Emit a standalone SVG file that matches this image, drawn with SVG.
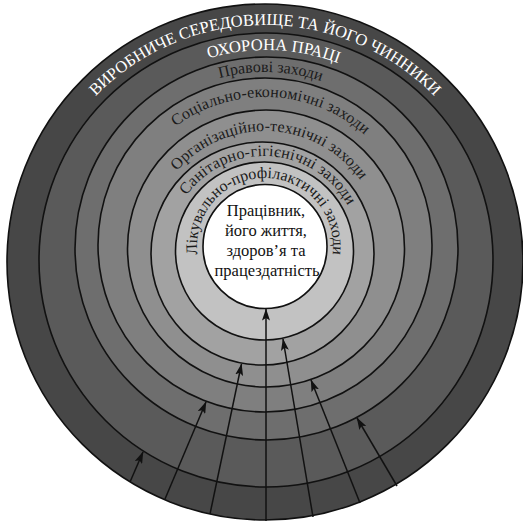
<svg xmlns="http://www.w3.org/2000/svg" width="523" height="525" viewBox="0 0 523 525">
  <style>
    .ring { stroke: #111; stroke-width: 1.6; }
    .light { fill: #ffffff; font-size: 16.6px; }
    .dark { fill: #1b1b1b; font-size: 16px; }
    .core { fill: #111; font-size: 16.5px; text-anchor: middle; }
    .arrow { stroke: #111; stroke-width: 1.5; fill: none; marker-end: url(#head); }
  </style>
  <defs>
    <marker id="head" viewBox="0 0 12 8" refX="11.5" refY="4" markerWidth="12" markerHeight="8" markerUnits="userSpaceOnUse" orient="auto">
      <path d="M0,0 L12,4 L0,8 L2.5,4 Z" fill="#111"/>
    </marker>
    <!-- full circles drawn clockwise from the bottom; 50% offset = top -->
    <path id="arc1" d="M265,499 A237,237 0 1,1 265,25 A237,237 0 1,1 265,499"/>
    <path id="arc2" d="M266,460 A205,205 0 1,1 266,50 A205,205 0 1,1 266,460"/>
    <path id="arc3" d="M265,422 A175,175 0 1,1 265,72 A175,175 0 1,1 265,422"/>
    <path id="arc4" d="M265,397 A150,150 0 1,1 265,97 A150,150 0 1,1 265,397"/>
    <path id="arc5" d="M265,365 A117,117 0 1,1 265,131 A117,117 0 1,1 265,365"/>
    <path id="arc6" d="M264,348 A96,96 0 1,1 264,156 A96,96 0 1,1 264,348"/>
    <path id="arc7" d="M265,314 A68,68 0 1,1 265,178 A68,68 0 1,1 265,314"/>
  </defs>

  <!-- nested rings, outermost first -->
  <g id="ring-environment"><circle class="ring" cx="265" cy="262" r="258" fill="#474747"/></g>
  <g id="ring-labour-protection"><circle class="ring" cx="266" cy="260" r="227" fill="#5a5a5a"/></g>
  <g id="ring-legal"><circle class="ring" cx="266.5" cy="248.5" r="191.5" fill="#6e6e6e"/></g>
  <g id="ring-social"><circle class="ring" cx="265" cy="245" r="167" fill="#7f7f7f"/></g>
  <g id="ring-organisational"><circle class="ring" cx="266" cy="248.5" r="138.5" fill="#8f8f8f"/></g>
  <g id="ring-sanitary"><circle class="ring" cx="262.5" cy="253.5" r="111.5" fill="#a2a2a2"/></g>
  <g id="ring-medical"><circle class="ring" cx="264.5" cy="251" r="89" fill="#c2c2c2"/></g>
  <g id="worker"><circle class="ring" cx="265" cy="246.5" r="62" fill="#ffffff"/></g>

  <!-- connectors -->
  <g id="connectors">
    <line class="arrow" x1="266" y1="521" x2="266" y2="309"/>
    <line class="arrow" x1="313" y1="517" x2="283" y2="339"/>
    <line class="arrow" x1="210" y1="514" x2="241.5" y2="364"/>
    <line class="arrow" x1="360" y1="503" x2="311" y2="380"/>
    <line class="arrow" x1="165" y1="499" x2="206" y2="402"/>
    <line class="arrow" x1="397" y1="486" x2="357" y2="418"/>
    <line class="arrow" x1="130" y1="482" x2="143" y2="452"/>
  </g>

  <!-- ring labels -->
  <g id="labels" font-family="'Liberation Serif', 'DejaVu Serif', serif">
    <text class="light"><textPath href="#arc1" startOffset="50%" text-anchor="middle">ВИРОБНИЧЕ СЕРЕДОВИЩЕ ТА ЙОГО ЧИННИКИ</textPath></text>
    <text class="light" font-size="17"><textPath href="#arc2" startOffset="50.6%" text-anchor="middle">ОХОРОНА ПРАЦІ</textPath></text>
    <text class="dark" font-size="16.3"><textPath href="#arc3" startOffset="50.5%" text-anchor="middle">Правові заходи</textPath></text>
    <text class="dark" letter-spacing="0.2"><textPath href="#arc4" startOffset="50.7%" text-anchor="middle">Соціально-економічні заходи</textPath></text>
    <text class="dark" letter-spacing="0.1"><textPath href="#arc5" startOffset="50.8%" text-anchor="middle">Організаційно-технічні заходи</textPath></text>
    <text class="dark" font-size="16.8" letter-spacing="0.2"><textPath href="#arc6" startOffset="51%" text-anchor="middle">Санітарно-гігієнічні заходи</textPath></text>
    <text class="dark" font-size="16.5"><textPath href="#arc7" startOffset="50%" text-anchor="middle">Лікувально-профілактичні заходи</textPath></text>
  </g>

  <!-- centre text -->
  <g id="worker-text" font-family="'Liberation Serif', 'DejaVu Serif', serif">
    <text class="core" x="266" y="216">Працівник,</text>
    <text class="core" x="266" y="236">його життя,</text>
    <text class="core" x="266" y="256">здоров’я та</text>
    <text class="core" x="267" y="276">працездатність</text>
  </g>
</svg>
